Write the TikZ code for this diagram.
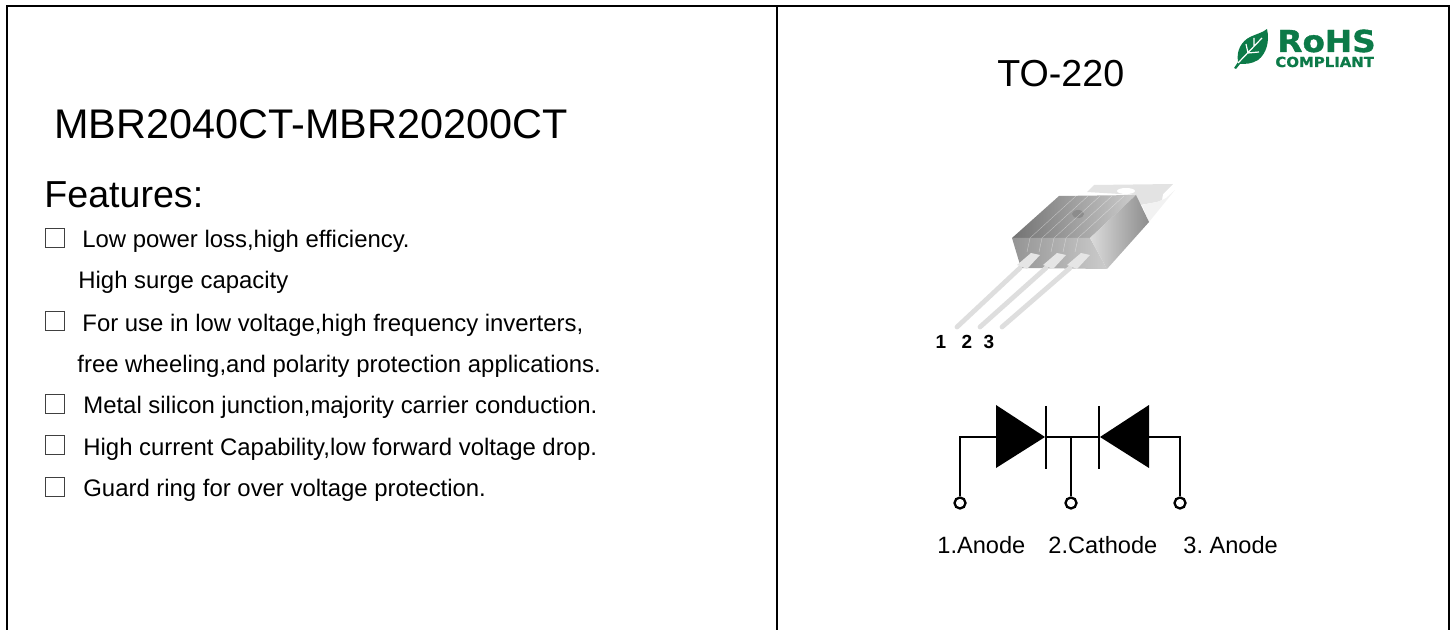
\documentclass[tikz,border=0pt]{standalone}
\usepackage{fontspec}
\setmainfont{Liberation Sans}
\newfontfamily\logofont[FakeStretch=1.08, BoldFeatures={FakeBold=1.2}]{DejaVu Sans}
\usetikzlibrary{positioning}

\tikzset{
  frameline/.style = {draw=black, line width=1.2pt},
  heading/.style   = {anchor=base west, inner sep=0pt, font=\fontsize{20.7}{24}\selectfont},
  subhead/.style   = {anchor=base west, inner sep=0pt, font=\fontsize{18.8}{22}\selectfont},
  feature/.style   = {anchor=base west, inner sep=0pt, font=\fontsize{11.95}{14}\selectfont},
  tick/.style      = {draw=black!75, line width=0.5pt, minimum size=9.5pt, inner sep=0pt},
  pinlabel/.style  = {anchor=base, inner sep=0pt, font=\bfseries\fontsize{9.5}{11}\selectfont},
  termlabel/.style = {anchor=base west, inner sep=0pt, font=\fontsize{11.8}{14}\selectfont},
  wire/.style      = {draw=black, line width=1.15pt},
  terminal/.style  = {circle, draw=black, line width=1.15pt, fill=white, minimum size=5.5pt, inner sep=0pt},
  diode/.style     = {fill=black, draw=none},
  lead/.style      = {draw=black!13, line width=2.4pt, line cap=round},
  stripe/.style    = {draw=white, line width=0.2pt, opacity=0.45}
}
\definecolor{rohsgreen}{RGB}{12,122,72}

\begin{document}
\begin{tikzpicture}[x=0.5pt, y=-0.5pt]
\useasboundingbox (0,0) rectangle (1456,630);

% frame of the two panels
\draw[frameline] (7,630) -- (7,6) -- (1449,6) -- (1449,630);
\draw[frameline] (777,6) -- (777,630);

% left panel
\node[heading] (title) at (54,139) {MBR2040CT-MBR20200CT};
\node[subhead] (feat) at (44,208) {Features:};

\node[tick] (b1) at (55,238) {};
\node[feature] (f1) at (82,248) {Low power loss,high efficiency.};
\node[feature] (f1b) at (78,289) {High surge capacity};
\node[tick] (b2) at (55,321) {};
\node[feature] (f2) at (82,332) {For use in low voltage,high frequency inverters,};
\node[feature] (f2b) at (77,373) {free wheeling,and polarity protection applications.};
\node[tick] (b3) at (55,404) {};
\node[feature] (f3) at (83,414) {Metal silicon junction,majority carrier conduction.};
\node[tick] (b4) at (55,445) {};
\node[feature] (f4) at (83,456) {High current Capability,low forward voltage drop.};
\node[tick] (b5) at (55,487) {};
\node[feature] (f5) at (83,496) {Guard ring for over voltage protection.};

% right panel, heading
\node[subhead] (pkg) at (997,87) {TO-220};

% logo
\fill[rohsgreen] (1234,68) -- (1238,62) .. controls (1236,50) and (1242,41) .. (1250,37) .. controls (1256,34) and (1262,33) .. (1267,29) .. controls (1270,42) and (1266,54) .. (1258,60) .. controls (1252,64) and (1245,64) .. (1240,64) -- (1236,69) -- cycle;
\draw[white, line width=0.6pt] (1238,63) -- (1262,38) (1248,53) -- (1246,44) (1248,53) -- (1259,52) (1254,46) -- (1254,38);
\node[anchor=base west, inner sep=0pt, text=rohsgreen, font=\logofont\bfseries\fontsize{15.1}{18}\selectfont] (rohs) at (1277,52) {RoHS};
\node[anchor=base west, inner sep=0pt, text=rohsgreen, font=\logofont\bfseries\fontsize{6.9}{8}\selectfont] (compl) at (1275,67) {COMPLIANT};

% package drawing: tab first, then the three faces of the body
\fill[black!11] (1087,192) -- (1094,185) -- (1173,184) -- (1163,194) -- (1162,200) -- (1157,202) -- (1140,205) -- (1136,195) -- cycle;
\fill[black!5] (1157,202) -- (1162,200) -- (1166,198) -- (1175,190) -- (1149,222) -- (1142,205) -- cycle;
\fill[white] (1126,191) ellipse (9 and 3);
\shade[left color=black!55, right color=black!20] (1012,238) -- (1059,196) -- (1136,195) -- (1090,238) -- cycle;
\shade[left color=black!42, right color=black!20] (1012,238) -- (1090,238) -- (1107,269) -- (1021,268) -- cycle;
\shade[left color=black!14, right color=black!45] (1090,238) -- (1136,195) -- (1149,222) -- (1107,269) -- cycle;
\fill[black!45] (1078,214) ellipse (6 and 4);

% thin lines on the moulded faces
\foreach \x in {1030,1042,1054,1066,1078}
  \draw[stripe] (\x,238) -- (\x+46,196);
\foreach \x in {1030,1042,1054,1066,1078}
  \draw[stripe] (\x,238) -- (\x-3,252);

% leads
\foreach \x/\y in {1020/957,1046/980,1070/1002}{
  \draw[lead] (\x,268) -- (\y,327);
  \fill[black!10] (\x-3,265) -- (\x+11,253) -- (\x+20,255) -- (\x+7,269) -- cycle;
}

\node[pinlabel] (p1) at (941,349) {1};
\node[pinlabel] (p2) at (967,349) {2};
\node[pinlabel] (p3) at (989,349) {3};

% schematic
\coordinate (la) at (996,437);
\coordinate (lk) at (1045,437);
\coordinate (ra) at (1149,437);
\coordinate (rk) at (1100,437);
\coordinate (mid) at (1071,437);
\node[terminal] (t1) at (960,503) {};
\node[terminal] (t2) at (1071,503) {};
\node[terminal] (t3) at (1180,503) {};

\fill[diode] (996,405) -- (1045,437) -- (996,468) -- cycle;
\fill[diode] (1149,405) -- (1100,437) -- (1149,468) -- cycle;
\draw[wire] (t1) -- (960,437) -- (la);
\draw[wire] (lk) -- (rk);
\draw[wire] (mid) -- (t2);
\draw[wire] (t3) -- (1180,437) -- (ra);
\draw[wire] (1046,406) -- (1046,469);
\draw[wire] (1099,406) -- (1099,469);

\node[termlabel] (n1) at (937,553) {1.Anode};
\node[termlabel] (n2) at (1048,553) {2.Cathode};
\node[termlabel] (n3) at (1183,553) {3.\ Anode};
\end{tikzpicture}
\end{document}
